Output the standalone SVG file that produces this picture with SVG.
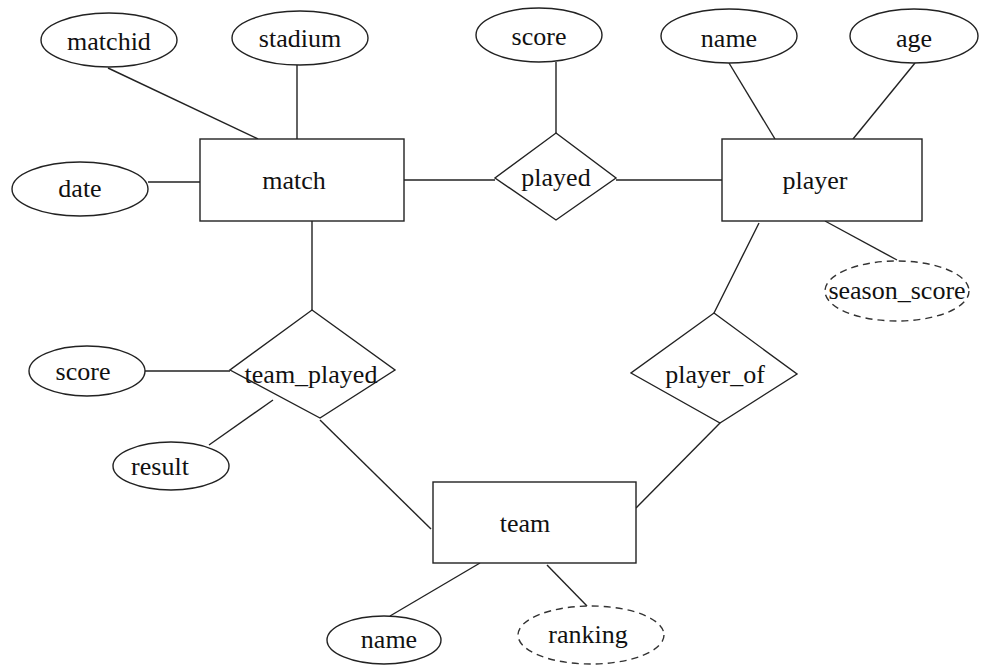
<svg xmlns="http://www.w3.org/2000/svg" width="981" height="666" viewBox="0 0 981 666">
<style>
.s{fill:#fff;stroke:#222;stroke-width:1.4}
.d{fill:#fff;stroke:#333;stroke-width:1.4;stroke-dasharray:7 5}
.c line{stroke:#222;stroke-width:1.4}
text{font-family:"Liberation Serif","Times New Roman",serif;font-size:26px;fill:#111;text-anchor:middle}
</style>
<rect width="981" height="666" fill="#fff"/>
<g class="c">
<line x1="108" y1="68" x2="258" y2="139"/>
<line x1="297" y1="65" x2="297" y2="139"/>
<line x1="148" y1="182" x2="200" y2="182"/>
<line x1="404" y1="180" x2="495" y2="180"/>
<line x1="556" y1="62" x2="556" y2="133"/>
<line x1="616" y1="180" x2="722" y2="180"/>
<line x1="729" y1="63" x2="775" y2="139"/>
<line x1="915" y1="63" x2="853" y2="139"/>
<line x1="825" y1="221" x2="897" y2="260"/>
<line x1="759" y1="223" x2="714" y2="313"/>
<line x1="312" y1="221" x2="312" y2="310"/>
<line x1="145" y1="371" x2="230" y2="371"/>
<line x1="209" y1="445" x2="273" y2="400"/>
<line x1="320" y1="420" x2="431" y2="529"/>
<line x1="720" y1="423" x2="636" y2="508"/>
<line x1="390" y1="616" x2="480" y2="563"/>
<line x1="547" y1="565" x2="587" y2="606"/>
</g>
<g id="matchid"><ellipse class="s" cx="109" cy="40" rx="68" ry="27"/><text x="109" y="50">matchid</text></g>
<g id="stadium"><ellipse class="s" cx="300" cy="38" rx="68" ry="27"/><text x="300" y="47">stadium</text></g>
<g id="date"><ellipse class="s" cx="80" cy="189" rx="68" ry="27"/><text x="80" y="197">date</text></g>
<g id="match"><rect class="s" x="200" y="139" width="204" height="82"/><text x="294" y="189">match</text></g>
<g id="score1"><ellipse class="s" cx="539" cy="35" rx="63" ry="27"/><text x="539" y="45">score</text></g>
<g id="played"><polygon class="s" points="556,133 616,178 556,220 495,178"/><text x="556" y="186">played</text></g>
<g id="name1"><ellipse class="s" cx="729" cy="36" rx="68" ry="27"/><text x="729" y="47">name</text></g>
<g id="age"><ellipse class="s" cx="914" cy="36" rx="64" ry="27"/><text x="914" y="47">age</text></g>
<g id="player"><rect class="s" x="722" y="139" width="200" height="82"/><text x="815" y="189">player</text></g>
<g id="season_score"><ellipse class="d" cx="897" cy="291" rx="72" ry="30"/><text x="897" y="299">season_score</text></g>
<g id="team_played"><polygon class="s" points="312,310 395,370 320,418 230,370"/><text x="311" y="383">team_played</text></g>
<g id="score2"><ellipse class="s" cx="87" cy="371" rx="58" ry="25"/><text x="83" y="380">score</text></g>
<g id="result"><ellipse class="s" cx="171" cy="466" rx="58" ry="24"/><text x="160" y="475">result</text></g>
<g id="player_of"><polygon class="s" points="714,313 797,374 720,423 631,373"/><text x="715" y="383">player_of</text></g>
<g id="team"><rect class="s" x="433" y="482" width="203" height="81"/><text x="525" y="532">team</text></g>
<g id="name2"><ellipse class="s" cx="384" cy="640" rx="57" ry="24"/><text x="389" y="648">name</text></g>
<g id="ranking"><ellipse class="d" cx="591" cy="635" rx="73" ry="29"/><text x="588" y="643">ranking</text></g>
</svg>
